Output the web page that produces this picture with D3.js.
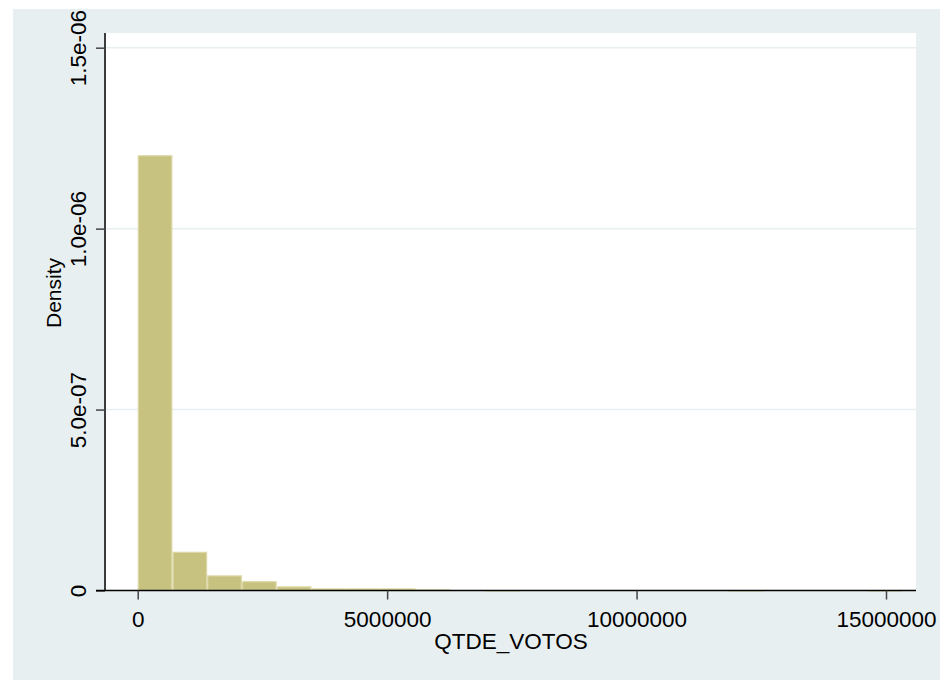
<!DOCTYPE html>
<html lang="en">
<head>
  <meta charset="utf-8">
  <title>QTDE_VOTOS histogram</title>
  <script src="https://cdnjs.cloudflare.com/ajax/libs/d3/7.8.5/d3.min.js"></script>
  <style>
    body { margin: 0; background: #fff; }
    svg { display: block; font-family: "Liberation Sans", Arial, sans-serif; }
    .grid line { stroke: #e8eff1; stroke-width: 1.5px; }
  </style>
</head>
<body>
<svg width="944" height="680"></svg>
<script>

// histogram: 22 bins starting at 0
var binStart = 0;
var binWidth = 696600;
var densities = [
  1.203e-6, 1.072e-7, 4.2e-8, 2.6e-8, 1.16e-8, 6.0e-9, 6.0e-9, 6.0e-9,
  3.3e-9, 0, 1.1e-9, 0, 0, 0, 0, 0, 0, 1.1e-9, 0, 0, 0, 1.1e-9
];
var xTicks = [0, 5000000, 10000000, 15000000];
var yTicks = [0, 5e-7, 1e-6, 1.5e-6];
var yTickLabels = ["0", "5.0e-07", "1.0e-06", "1.5e-06"];
var xTitle = "QTDE_VOTOS";
var yTitle = "Density";

var svg = d3.select("svg");

// outer graph region
svg.append("rect")
    .attr("x", 13).attr("y", 9)
    .attr("width", 927).attr("height", 671)
    .attr("fill", "#e8eff1");

var plot = {left: 106, right: 916, top: 33, bottom: 591};

svg.append("rect")
    .attr("x", plot.left).attr("y", plot.top)
    .attr("width", plot.right - plot.left).attr("height", plot.bottom - plot.top)
    .attr("fill", "#fff");

var x = d3.scaleLinear().domain([0, 15000000]).range([137.7, 886]);
var y = d3.scaleLinear().domain([0, 1.5e-6]).range([590.5, 47.7]);

// grid lines
svg.append("g")
    .attr("class", "grid")
  .selectAll("line")
  .data(yTicks.slice(1))
  .enter().append("line")
    .attr("x1", plot.left).attr("x2", plot.right)
    .attr("y1", function(d) { return y(d); })
    .attr("y2", function(d) { return y(d); });

// bars
var bins = densities.map(function(d, i) {
  return {x0: binStart + i * binWidth, x1: binStart + (i + 1) * binWidth, density: d};
});

svg.append("g")
  .selectAll("rect")
  .data(bins.filter(function(b) { return b.density > 0; }))
  .enter().append("rect")
    .attr("x", function(d) { return x(d.x0) + 0.6; })
    .attr("width", function(d) { return x(d.x1) - x(d.x0) - 1.2; })
    .attr("y", function(d) { return y(d.density) + 0.6; })
    .attr("height", function(d) { return Math.max(0.3, y(0) - y(d.density) - 0.6); })
    .attr("fill", "#c8c280")
    .attr("stroke", "#dcd8a6")
    .attr("stroke-width", 1.2);

// y axis
var yAxis = svg.append("g")
    .attr("transform", "translate(105,0)")
    .call(d3.axisLeft(y).tickValues(yTicks).tickSize(9).tickFormat(function(d, i) { return yTickLabels[i]; }));
yAxis.select(".domain").attr("d", "M0," + plot.top + "V" + y(0)).attr("stroke", "#000").attr("stroke-width", 1.5);
yAxis.selectAll(".tick line").attr("stroke", "#444").attr("stroke-width", 1.5);
yAxis.selectAll(".tick text")
    .attr("x", null).attr("dy", null)
    .attr("transform", "translate(-19,0) rotate(-90)")
    .attr("text-anchor", "middle")
    .attr("fill", "#000")
    .style("font-size", "22.5px");

// x axis
var xAxis = svg.append("g")
    .attr("transform", "translate(0," + y(0) + ")")
    .call(d3.axisBottom(x).tickValues(xTicks).tickSize(9).tickFormat(d3.format("d")));
xAxis.select(".domain").attr("d", "M96,0H" + plot.right).attr("stroke", "#000").attr("stroke-width", 1.5);
xAxis.selectAll(".tick line").attr("stroke", "#444").attr("stroke-width", 1.5);
xAxis.selectAll(".tick text")
    .attr("y", 36.5).attr("dy", null)
    .attr("fill", "#000")
    .style("font-size", "22.5px");

// axis titles
svg.append("text")
    .attr("x", (plot.left + plot.right) / 2)
    .attr("y", 648.5)
    .attr("text-anchor", "middle")
    .style("font-size", "22.5px")
    .text(xTitle);

svg.append("text")
    .attr("transform", "translate(61,293) rotate(-90)")
    .attr("text-anchor", "middle")
    .style("font-size", "21px")
    .text(yTitle);

</script>
</body>
</html>
